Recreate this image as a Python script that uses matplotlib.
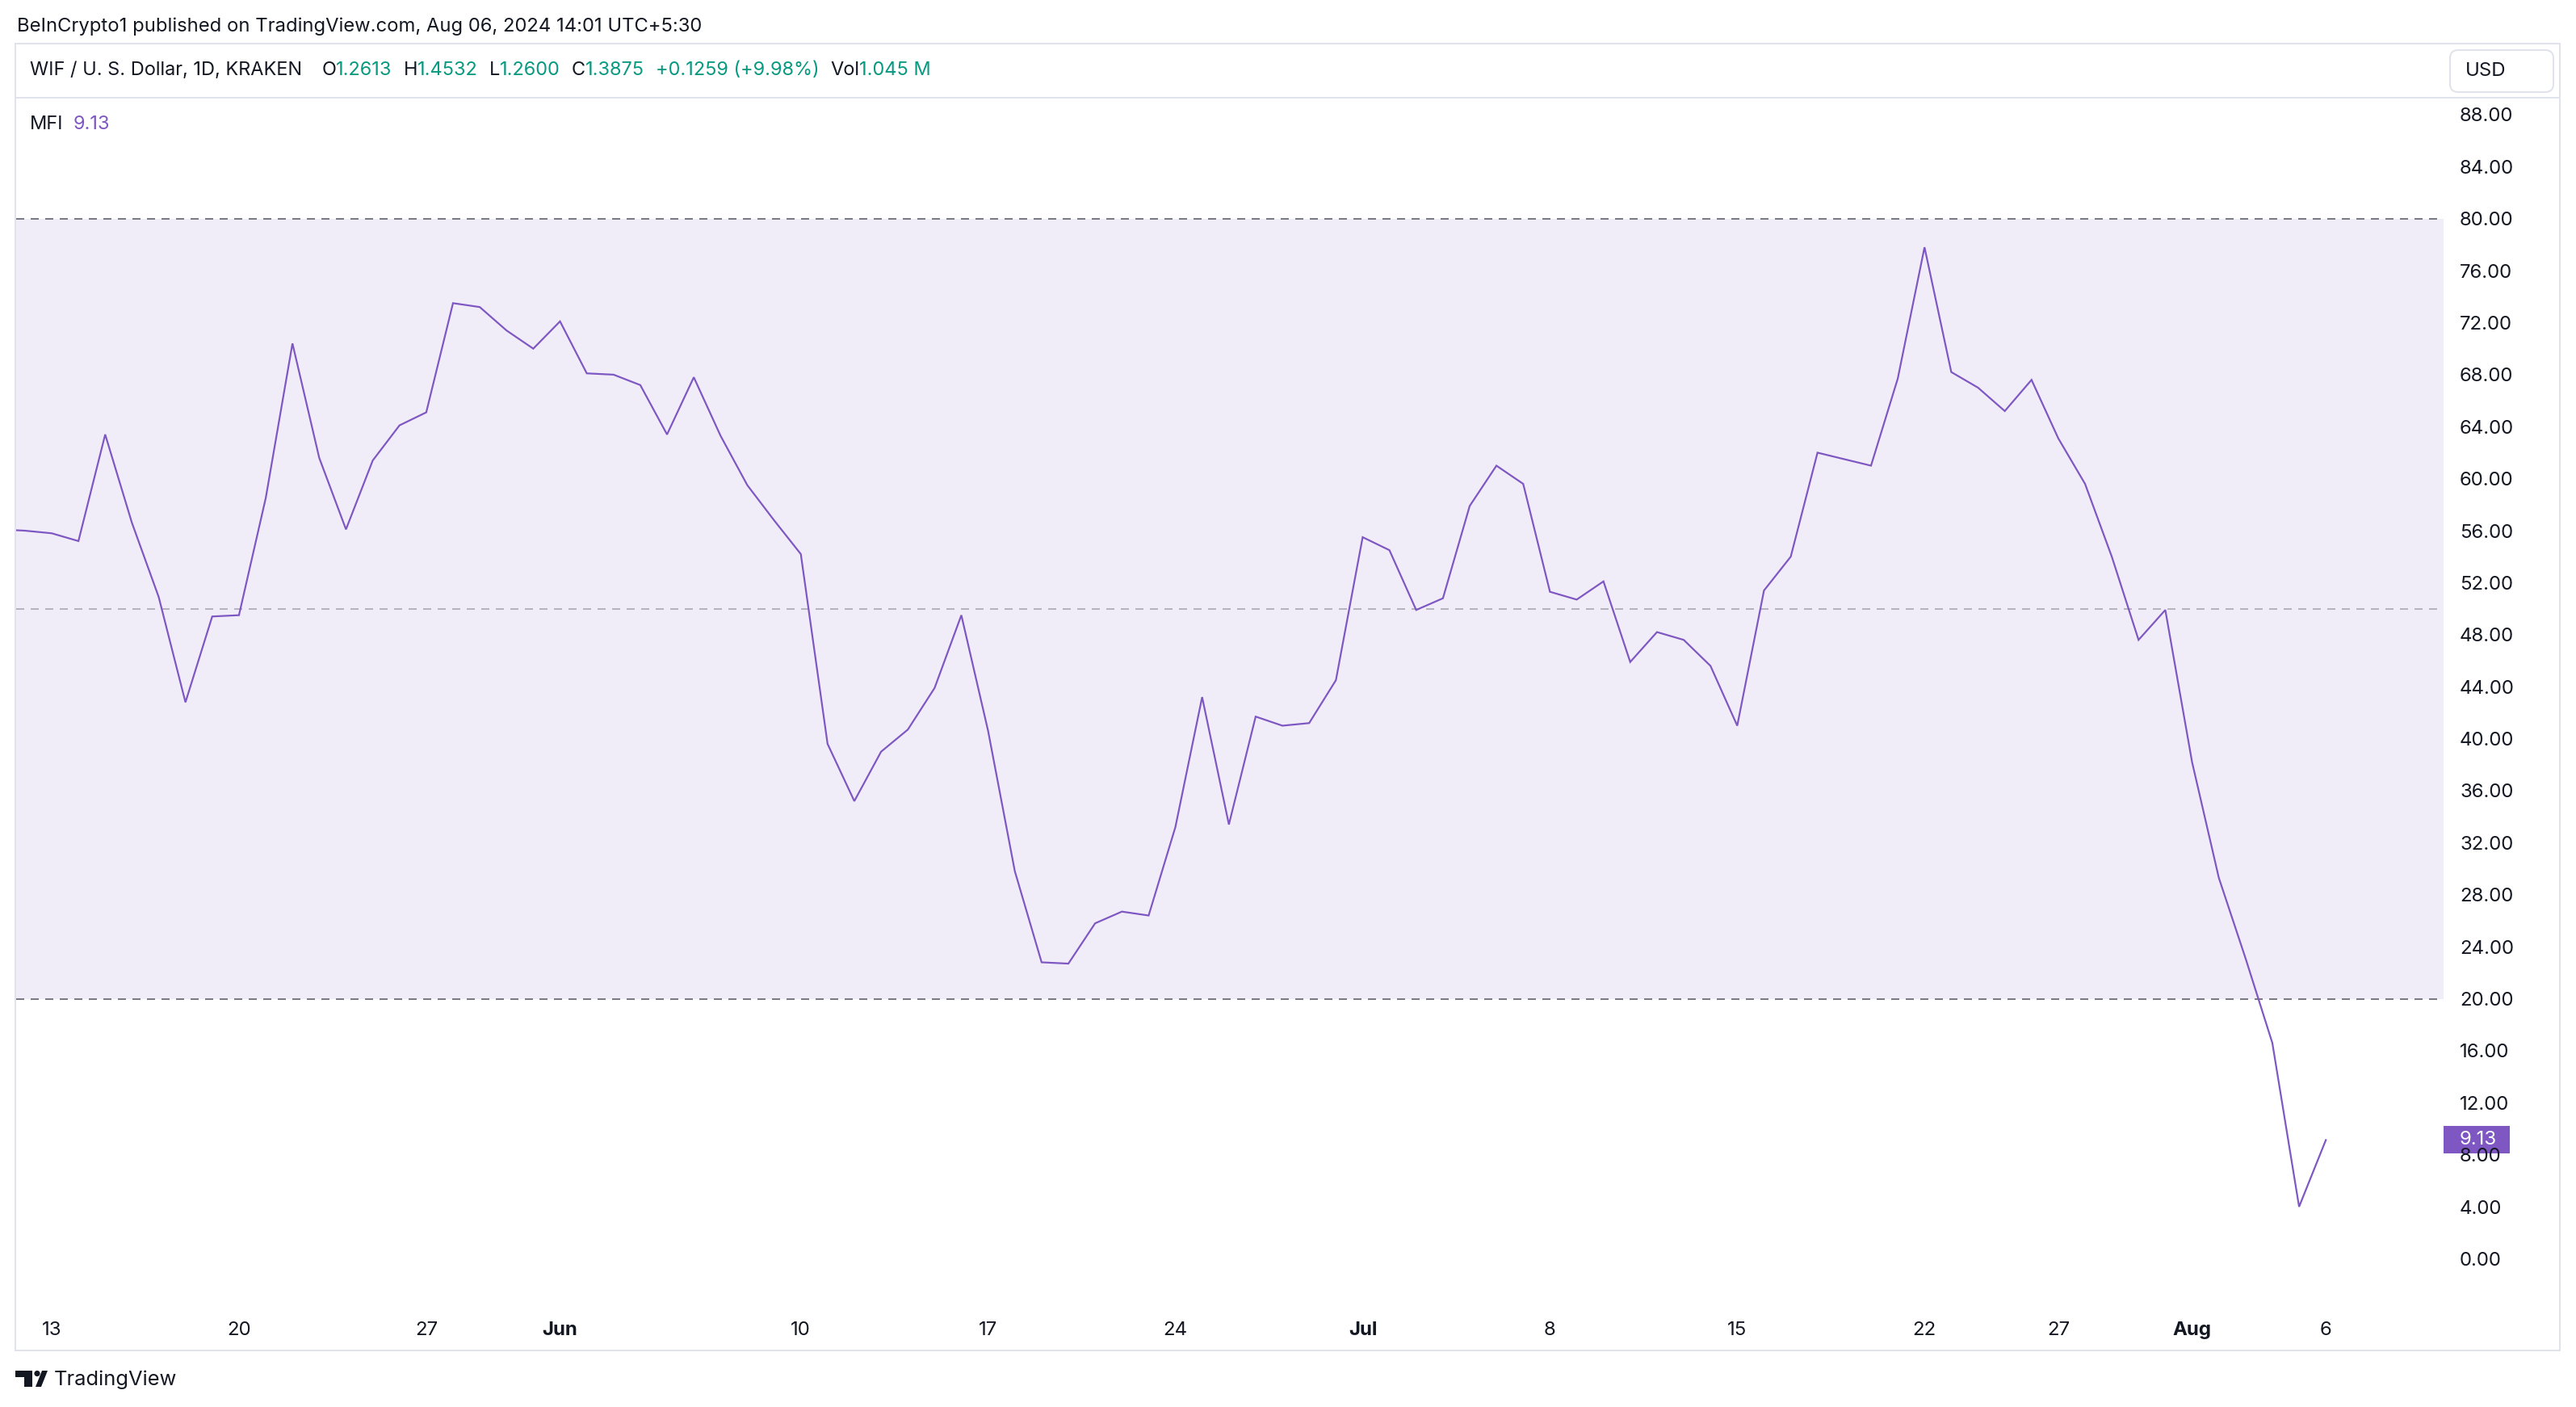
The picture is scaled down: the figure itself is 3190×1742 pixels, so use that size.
import matplotlib
matplotlib.use('Agg')
import matplotlib.pyplot as plt
from matplotlib.patches import Rectangle, FancyBboxPatch, Circle, Polygon
from matplotlib.transforms import blended_transform_factory
import pandas as pd

plt.rcParams['font.family'] = ['Inter', 'DejaVu Sans']

# --- data (daily MFI, WIF/USD Kraken) ---
dates = pd.date_range('2024-05-11', '2024-08-06', freq='D')
mfi = [
    56.1, 56.0, 55.8, 55.2, 63.4, 56.6, 50.9, 42.8, 49.4, 49.5, 58.5,
    70.4, 61.6, 56.1, 61.4, 64.1, 65.1, 73.5, 73.2, 71.4, 70.0,
    72.1, 68.1, 68.0, 67.2, 63.4, 67.8, 63.3, 59.5, 56.8, 54.2,
    39.6, 35.2, 39.0, 40.7, 43.9, 49.5, 40.6, 29.8, 22.8, 22.7,
    25.8, 26.7, 26.4, 33.2, 43.2, 33.4, 41.7, 41.0, 41.2, 44.5,
    55.5, 54.5, 49.9, 50.8, 57.9, 61.0, 59.6, 51.3, 50.7, 52.1,
    45.9, 48.2, 47.6, 45.6, 41.0, 51.4, 54.0, 62.0, 61.5, 61.0,
    67.7, 77.8, 68.2, 67.0, 65.2, 67.6, 63.1, 59.6, 54.0, 47.6,
    49.9, 38.2, 29.3, 23.1, 16.6, 4.0, 9.13,
]
bands = [20, 50, 80]
yticks = list(range(0, 89, 4))
tick_dates = pd.to_datetime(['2024-05-13', '2024-05-20', '2024-05-27', '2024-06-01',
                             '2024-06-10', '2024-06-17', '2024-06-24', '2024-07-01',
                             '2024-07-08', '2024-07-15', '2024-07-22', '2024-07-27',
                             '2024-08-01', '2024-08-06'])
tick_labels = ['13', '20', '27', 'Jun', '10', '17', '24', 'Jul', '8', '15', '22', '27', 'Aug', '6']
months = {'Jun', 'Jul', 'Aug'}

legend_parts = [
    ('WIF / U. S. Dollar, 1D, KRAKEN', 'dark', 0),
    ('O', 'dark', 24), ('1.2613', 'green', 0),
    ('H', 'dark', 14), ('1.4532', 'green', 0),
    ('L', 'dark', 14), ('1.2600', 'green', 0),
    ('C', 'dark', 14), ('1.3875', 'green', 0),
    ('+0.1259 (+9.98%)', 'green', 14),
    ('Vol', 'dark', 14), ('1.045 M', 'green', 0),
]

DARK = '#131722'
GREEN = '#089981'
PURPLE = '#7E57C2'
GREY = '#787B86'
BORDER = '#E0E3EB'
colors = {'dark': DARK, 'green': GREEN}

W, H, DPI = 3190, 1742, 200
PT = DPI / 72.0          # pixels per point
FS = 24 / PT             # ~24 px text
FS_HEAD = 23.5 / PT

fig = plt.figure(figsize=(W / DPI, H / DPI), dpi=DPI, facecolor='white')

# overlay in pixel coordinates for the chrome around the chart
over = fig.add_axes([0, 0, 1, 1], zorder=0)
over.set_xlim(0, W)
over.set_ylim(H, 0)
over.axis('off')

over.add_patch(Rectangle((19, 54), 3151, 1618, fill=False, ec=BORDER, lw=2 / PT))
over.plot([19, 3170], [121, 121], color=BORDER, lw=2 / PT)
over.add_patch(FancyBboxPatch((3034, 62), 128, 52, boxstyle='round,pad=0,rounding_size=10',
                              fc='white', ec=BORDER, lw=2 / PT))
over.text(3053, 88, 'USD', fontsize=FS, color=DARK, va='center', ha='left')

over.text(21, 33, 'BeInCrypto1 published on TradingView.com, Aug 06, 2024 14:01 UTC+5:30',
          fontsize=23.8 / PT, color=DARK, va='center', ha='left')

prev = over.text(37, 87, legend_parts[0][0], fontsize=FS_HEAD, color=DARK, va='center', ha='left')
for txt, col, gap in legend_parts[1:]:
    prev = over.annotate(txt, xy=(1, 0), xycoords=prev, xytext=(gap, 0),
                         textcoords='offset pixels', va='bottom', ha='left',
                         fontsize=FS_HEAD, color=colors[col])

mfi_lbl = over.text(37, 154, 'MFI', fontsize=FS_HEAD, color=DARK, va='center', ha='left')
over.annotate(f'{mfi[-1]:.2f}', xy=(1, 0), xycoords=mfi_lbl, xytext=(12, 0),
              textcoords='offset pixels', va='bottom', ha='left', fontsize=FS_HEAD, color=PURPLE)

# TradingView logo
over.add_patch(Polygon([(19, 1697), (40, 1697), (40, 1717), (30, 1717), (30, 1705), (19, 1705)],
                       closed=True, fc=DARK, ec='none'))
over.add_patch(Circle((46, 1700.5), 3.6, fc=DARK, ec='none'))
over.add_patch(Polygon([(44, 1717), (52, 1697), (59, 1697), (51, 1717)], closed=True, fc=DARK, ec='none'))
over.text(67, 1708, 'TradingView', fontsize=25.5 / PT, color=DARK, va='center', ha='left')

# --- indicator pane ---
L, R, T, B = 19.5, 3026, 121, 1618
ax = fig.add_axes([L / W, 1 - B / H, (R - L) / W, (B - T) / H], zorder=1)
ax.set_facecolor('none')
for s in ax.spines.values():
    s.set_visible(False)

ax.axhspan(bands[0], bands[2], color=PURPLE, alpha=0.1, lw=0)
ax.axhline(bands[2], color=GREY, lw=2 / PT, ls=(0, (5, 4)))
ax.axhline(bands[1], color=GREY, alpha=0.5, lw=2 / PT, ls=(0, (5, 4)))
ax.axhline(bands[0], color=GREY, lw=2 / PT, ls=(0, (5, 4)))
ax.plot(dates, mfi, color=PURPLE, lw=2.2 / PT, solid_joinstyle='miter')

x0 = pd.Timestamp('2024-05-13')
ax.set_xlim(x0 - pd.Timedelta(days=1.343), x0 + pd.Timedelta(days=89.4))
ax.set_ylim(-3.7, 89.3)

ax.yaxis.tick_right()
ax.set_yticks(yticks)
ax.set_yticklabels([f'{v:.2f}' for v in yticks])
ax.tick_params(axis='y', length=0, pad=20 / PT, labelsize=FS, labelcolor=DARK)

ax.set_xticks(tick_dates)
ax.set_xticklabels(tick_labels)
ax.tick_params(axis='x', length=0, pad=18 / PT, labelsize=FS, labelcolor=DARK)
for lbl in ax.get_xticklabels():
    if lbl.get_text() in months:
        lbl.set_fontweight('bold')

# last value badge on the price scale
btr = blended_transform_factory(ax.transAxes, ax.transData)
unit = (B - T) / (89.3 + 3.7)
bw = 82 / (R - L)
bh = 34 / unit
ax.add_patch(Rectangle((1.0, mfi[-1] - bh / 2), bw, bh, transform=btr, clip_on=False,
                       fc=PURPLE, ec='none'))
ax.text(1.0 + 20 / (R - L), mfi[-1], f'{mfi[-1]:.2f}', transform=btr, color='white',
        fontsize=FS, va='center', ha='left', clip_on=False)

fig.savefig('out.png', dpi=DPI, facecolor='white')
